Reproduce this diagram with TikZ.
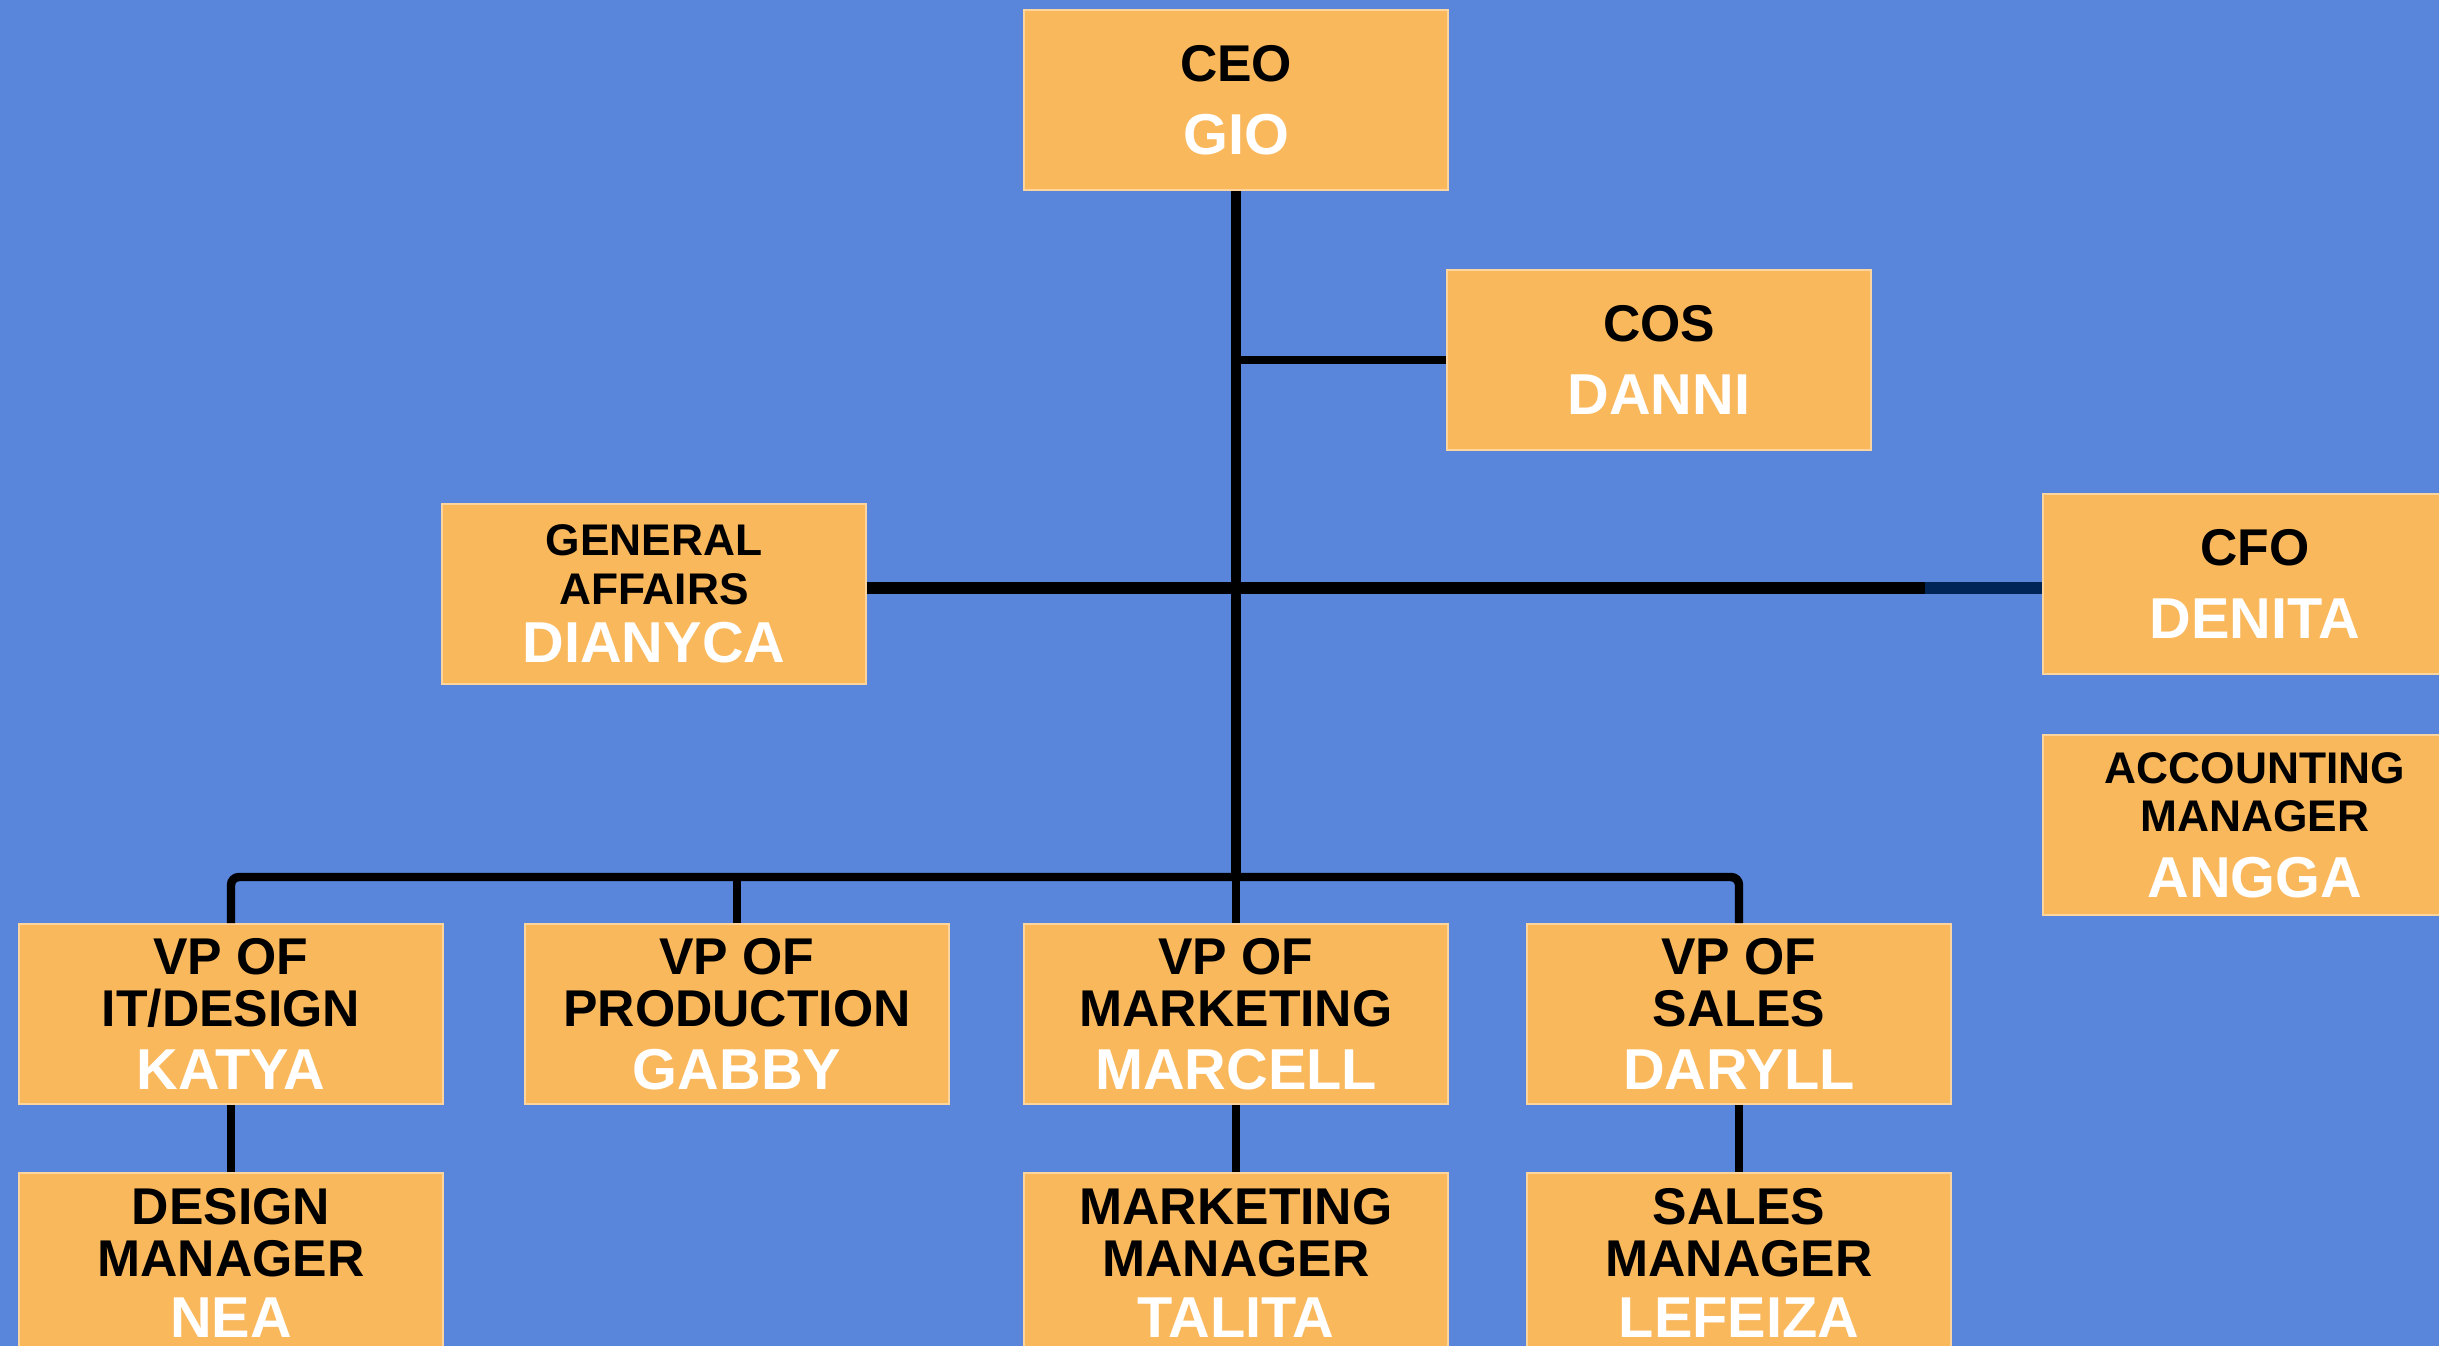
\documentclass[tikz,border=0pt]{standalone}
\usepackage{fontspec}
\setmainfont{Liberation Sans}
\usetikzlibrary{positioning}
\definecolor{sky}{HTML}{5985DB}
\definecolor{peach}{HTML}{FAB85D}
\definecolor{navy}{HTML}{002456}
\newcommand{\who}[1]{{\fontsize{16.4}{16.4}\selectfont\color{white}#1}}
\tikzset{post/.style={fill=peach, draw=peach!60!white, line width=0.5pt,
minimum width=4.24cm, minimum height=1.8cm, inner sep=0pt, align=center,
font=\bfseries\fontsize{14.7}{14.8}\selectfont}}

\begin{document}
\begin{tikzpicture}[x=0.01cm, y=-0.01cm,
  small/.style={font=\bfseries\fontsize{12.6}{13.8}\selectfont},
  spine/.style={line width=2.6pt}, arm/.style={line width=3.4pt},
  twig/.style={line width=2.1pt}]

  \useasboundingbox (0,0) rectangle (2439,1346);
  \fill[sky] (0,0) rectangle (2439,1346);
  \clip (0,0) rectangle (2439,1346);

  % top of the chart
  \node[post] (ceo) at (1236,100) {CEO\\[6pt]\who{GIO}};
  \node[post] (cos) at (1659,360) {COS\\[6pt]\who{DANNI}};
  \node[post, small] (ga) at (654,594) {GENERAL\\AFFAIRS\\[2.8pt]\who{DIANYCA}};
  \node[post] (cfo) at (2255,584) {CFO\\[6pt]\who{DENITA}};
  \node[post, small, below=0.59cm of cfo] (acc) {ACCOUNTING\\MANAGER\\[4.8pt]\who{ANGGA}};

  % vice presidents
  \node[post] (vpit) at (231,1014) {VP OF\\IT/DESIGN\\[3pt]\who{KATYA}};
  \node[post] (vpprod) at (737,1014) {VP OF\\PRODUCTION\\[3pt]\who{GABBY}};
  \node[post] (vpmkt) at (1236,1014) {VP OF\\MARKETING\\[3pt]\who{MARCELL}};
  \node[post] (vpsales) at (1739,1014) {VP OF\\SALES\\[3pt]\who{DARYLL}};

  % managers
  \node[post, below=0.67cm of vpit] (dm) {DESIGN\\MANAGER\\[2.4pt]\who{NEA}};
  \node[post, below=0.67cm of vpmkt] (mm) {MARKETING\\MANAGER\\[2.4pt]\who{TALITA}};
  \node[post, below=0.67cm of vpsales] (sm) {SALES\\MANAGER\\[2.4pt]\who{LEFEIZA}};

  \coordinate (hub) at (1236,588);
  \coordinate (bus) at (1236,877);

  \draw[spine] (ceo.south) -- (bus);
  \draw[twig] (ceo.south |- cos.west) -- (cos.west);
  \draw[arm] (ga.east |- hub) -- (cfo.west |- hub);
  \draw[arm, navy] ([xshift=-1.17cm]cfo.west |- hub) -- (cfo.west |- hub);

  \draw[twig, line width=2.4pt, rounded corners=0.08cm] (vpit.north) -- (vpit.north |- bus)
    -- (vpsales.north |- bus) -- (vpsales.north);
  \draw[twig] (vpprod.north) -- (vpprod.north |- bus);
  \draw[twig] (vpmkt.north) -- (bus);

  \draw[twig] (vpit.south) -- (dm.north);
  \draw[twig] (vpmkt.south) -- (mm.north);
  \draw[twig] (vpsales.south) -- (sm.north);
\end{tikzpicture}
\end{document}
